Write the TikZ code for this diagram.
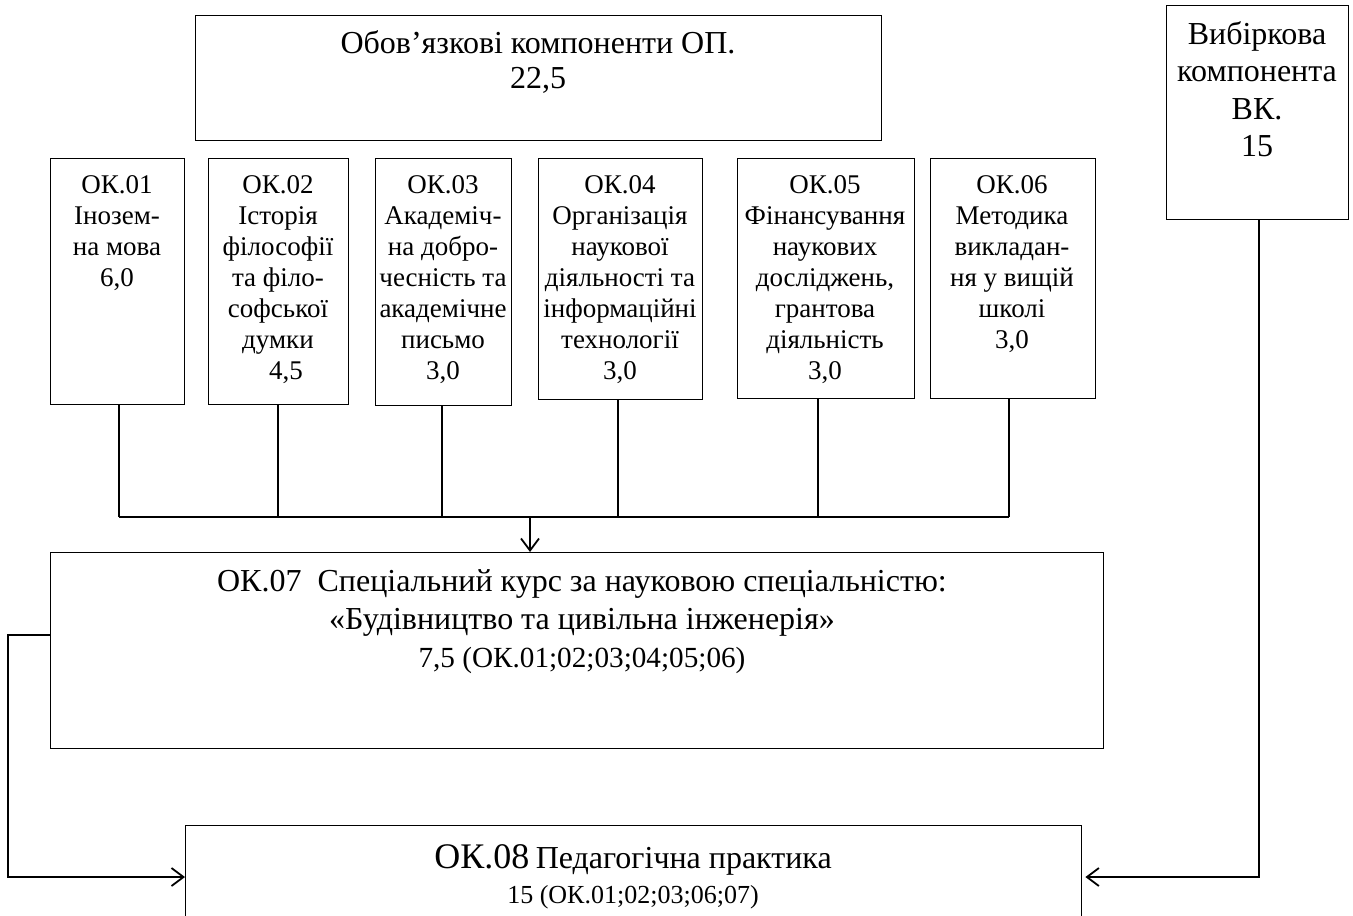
\documentclass[tikz,border=0pt]{standalone}
\usepackage{fontspec}
\setmainfont{Liberation Serif}
\usetikzlibrary{arrows.meta}
\begin{document}
\begin{tikzpicture}[x=0.5pt,y=-0.5pt,
  box/.style={draw=black, line width=0.7pt, inner sep=0pt, anchor=north west},
  txt/.style={anchor=north, inner sep=0pt, align=center},
  okt/.style={txt, font=\fontsize{13.5}{15.5}\selectfont},
  conn/.style={draw=black, line width=0.9pt},
  tip/.style={-{Straight Barb[length=6pt,width=9pt,line width=0.9pt]}}]
\useasboundingbox[fill=white] (0,0) rectangle (1353,915);
\begin{scope}
\clip (0,0) rectangle (1353,915);
% boxes
\node[box, minimum width=343pt, minimum height=62.5pt] (top) at (195,15) {};
\node[box, minimum width=91pt, minimum height=107pt] (vk) at (1166,5) {};
\node[box, minimum width=67pt, minimum height=123pt] (ok1) at (50,158) {};
\node[box, minimum width=70pt, minimum height=123pt] (ok2) at (208,158) {};
\node[box, minimum width=68pt, minimum height=123.5pt] (ok3) at (375,158) {};
\node[box, minimum width=82pt, minimum height=120.5pt] (ok4) at (538,158) {};
\node[box, minimum width=88.5pt, minimum height=120pt] (ok5) at (737,158) {};
\node[box, minimum width=82.5pt, minimum height=120pt] (ok6) at (930,158) {};
\node[box, minimum width=526.5pt, minimum height=98pt] (ok7) at (50,552) {};
\node[box, minimum width=448pt, minimum height=80pt] (ok8) at (185,825) {};
% texts
\node[txt, font=\fontsize{16}{17.5}\selectfont] (ttop) at (538,30) {Обов’язкові компоненти ОП.\\22,5};
\node[txt, font=\fontsize{16}{18.75}\selectfont] (tvk) at (1257,21) {Вибіркова\\компонента\\ВК.\\15};
\node[okt] (t1) at (117,175) {ОК.01\\Інозем-\\на мова\\6,0};
\node[okt] (t2) at (278,175) {ОК.02\\Історія\\філософії\\та філо-\\софської\\думки\\\hspace*{8pt}4,5};
\node[okt] (t3) at (443,175) {ОК.03\\Академіч-\\на добро-\\чесність та\\академічне\\письмо\\3,0};
\node[okt] (t4) at (620,175) {ОК.04\\Організація\\наукової\\діяльності та\\інформаційні\\технології\\3,0};
\node[okt] (t5) at (825,175) {ОК.05\\Фінансування\\наукових\\досліджень,\\грантова\\діяльність\\3,0};
\node[okt] (t6) at (1012,175) {ОК.06\\Методика\\викладан-\\ня у вищій\\школі\\3,0};
\node[txt, font=\fontsize{16}{19}\selectfont] (t7) at (582,569) {ОК.07\ \ Спеціальний курс за науковою спеціальністю:\\«Будівництво та цивільна інженерія»\\{\fontsize{14.6}{19}\selectfont 7,5 (ОК.01;02;03;04;05;06)}};
\node[txt, font=\fontsize{13}{17.5}\selectfont] (t8) at (633,844) {{\fontsize{18}{18}\selectfont ОК.08} {\fontsize{16}{16}\selectfont Педагогічна практика}\\15 (ОК.01;02;03;06;07)};
% connectors
\coordinate (bus) at (0,517);
\coordinate (lc) at (8,877);
\coordinate (rc) at (1258,877);
\draw[conn] ([xshift=0.5pt]ok1.south) -- ([xshift=0.5pt]ok1.south |- bus);
\draw[conn] ([xshift=-0.5pt]ok2.south) -- ([xshift=-0.5pt]ok2.south |- bus);
\draw[conn] ([xshift=-1pt]ok3.south) -- ([xshift=-1pt]ok3.south |- bus);
\draw[conn] ([xshift=-1.5pt]ok4.south) -- ([xshift=-1.5pt]ok4.south |- bus);
\draw[conn] ([xshift=-4.25pt]ok5.south) -- ([xshift=-4.25pt]ok5.south |- bus);
\draw[conn] ([xshift=-2pt]ok6.south) -- ([xshift=-2pt]ok6.south |- bus);
\draw[conn] ([xshift=0.5pt]ok1.south |- bus) -- ([xshift=-2pt]ok6.south |- bus);
\draw[conn, tip] (530,517) -- (530,517 |- ok7.north);
\draw[conn, tip] ([yshift=8pt]ok7.west) -| (lc) -- (lc -| ok8.west);
\draw[conn, tip] ([xshift=0.5pt]vk.south) |- ([xshift=1.5pt]rc -| ok8.east);
\end{scope}
\end{tikzpicture}
\end{document}
